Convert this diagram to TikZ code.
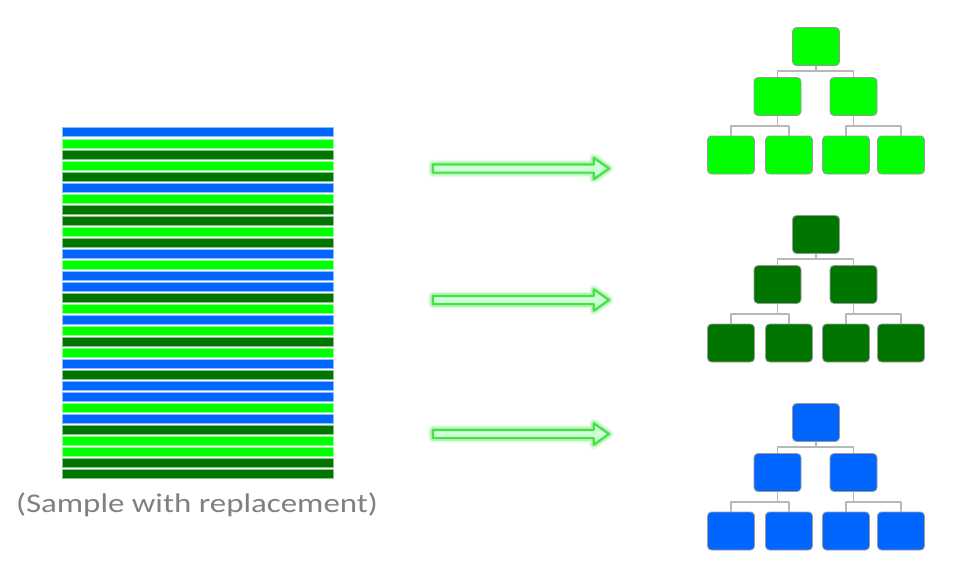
\documentclass[tikz,border=0pt]{standalone}
\usepackage{fontspec}
\setmainfont{Carlito}
\usepackage{tikz}
\usetikzlibrary{shapes.arrows,positioning}
\definecolor{colL}{RGB}{0,255,0}
\definecolor{colD}{RGB}{0,118,0}
\definecolor{colB}{RGB}{0,102,255}
\definecolor{glowgreen}{RGB}{70,225,70}
\definecolor{mint}{RGB}{205,255,215}

\begin{document}
\begin{tikzpicture}[x=1pt, y=-1pt, line join=round,
  bar/.style={draw=white, line width=0.7pt},
  tbox/.style={draw=black!40, line width=0.8pt, rounded corners=4pt, minimum width=47pt, minimum height=38pt, inner sep=0pt},
  link/.style={draw=black!28, line width=1.3pt},
  glowarrow/.style={single arrow, draw=glowgreen, fill=mint, line width=2.2pt, inner sep=0pt, inner ysep=3pt, single arrow head extend=6.5pt, single arrow tip angle=70, minimum height=176pt,
    preaction={draw=glowgreen, line width=9pt, opacity=0.15}, preaction={draw=glowgreen, line width=5.5pt, opacity=0.3}}]
\useasboundingbox (0,0) rectangle (969,576);
% bootstrap sample
\foreach \c [count=\i] in {B,L,D,L,D,B,L,D,D,L,D,B,L,B,B,D,L,B,L,D,L,B,D,B,B,L,B,D,L,L,D,D} {
  \pgfmathsetmacro\yt{\i==1 ? 127.3 : 139.3+(\i-2)*11}
  \fill[fill=col\c] (62,\yt) rectangle (333,\yt+9.4);
  \draw[bar, draw=col\c!45!white] (62,\yt) rectangle (333,\yt+9.4);
}
\node[text=black!50, font=\fontsize{27}{32}\selectfont] (caption) at (197,505) {\scalebox{1.22}[1]{(Sample with replacement)}};
% arrows
\foreach \y [count=\i] in {168.5,300,434} \node[glowarrow] (arr\i) at (518,\y) {};
% trees
\foreach \col [count=\t from 0] in {colL,colD,colB} {
  \pgfmathsetmacro\dy{188*\t}
  \node[tbox, fill=\col] (r\t) at (816,46.5+\dy) {};
  \node[tbox, fill=\col] (a\t) at (777.5,96.5+\dy) {}; \node[tbox, fill=\col] (b\t) at (853.5,96.5+\dy) {};
  \node[tbox, fill=\col] (aa\t) at (731,155+\dy) {}; \node[tbox, fill=\col] (ab\t) at (789,155+\dy) {};
  \node[tbox, fill=\col] (ba\t) at (846,155+\dy) {}; \node[tbox, fill=\col] (bb\t) at (901,155+\dy) {};
  \draw[link] (r\t.south) -- ++(0,5) -| (a\t.north); \draw[link] (r\t.south) -- ++(0,5) -| (b\t.north);
  \draw[link] (a\t.south) -- ++(0,10) -| (aa\t.north); \draw[link] (a\t.south) -- ++(0,10) -| (ab\t.north);
  \draw[link] (b\t.south) -- ++(0,10) -| (ba\t.north); \draw[link] (b\t.south) -- ++(0,10) -| (bb\t.north);
}
\end{tikzpicture}
\end{document}
